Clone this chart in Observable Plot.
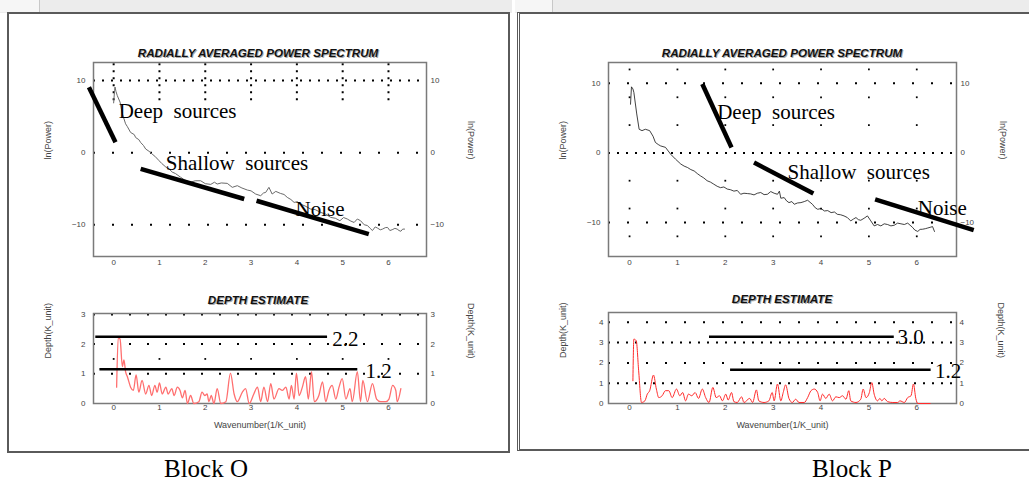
<!DOCTYPE html>
<html><head><meta charset="utf-8">
<script src="https://cdn.jsdelivr.net/npm/d3@7"></script>
<script src="https://cdn.jsdelivr.net/npm/@observablehq/plot@0.6"></script>
<style>
body{margin:0;background:#fff;}
#wrap{position:relative;width:1029px;height:481px;overflow:hidden;font-family:"Liberation Sans",Arial,sans-serif;background:#fff;}
.box{position:absolute;box-sizing:border-box;}
.title{position:absolute;font-weight:bold;font-style:italic;font-size:11.6px;color:#111;text-shadow:1px 1px 0 #aaa;white-space:nowrap;transform:translate(-50%,-50%);}
.block{position:absolute;font-family:"Liberation Serif",serif;font-size:25px;color:#000;transform:translate(-50%,-50%);white-space:nowrap;}
svg text{white-space:pre;}
</style></head><body><div id="wrap"></div>
<script>
// ---------- data ----------
const xTicks = [0, 1, 2, 3, 4, 5, 6];
const powerTicks = [-10, 0, 10];
const depthTicksO = [0, 1, 2, 3];
const depthTicksP = [0, 1, 2, 3, 4];

// Block O radially averaged power spectrum [wavenumber, ln(power)]
const powerO = [[0.00,6.9],[0.02,8.6],[0.03,9.1],[0.05,8.5],[0.08,7.9],[0.14,7.0],[0.19,5.4],[0.26,4.0],[0.30,3.6],[0.37,2.8],[0.45,2.5],[0.48,2.1],[0.55,1.8],[0.59,1.4],[0.65,1.0],[0.70,0.5],[0.77,0.2],[0.84,-0.2],[0.90,-0.5],[0.99,-1.1],[1.05,-1.5],[1.14,-2.0],[1.20,-2.2],[1.28,-2.7],[1.35,-2.9],[1.46,-3.4],[1.55,-3.8],[1.68,-4.1],[1.78,-3.9],[1.90,-3.9],[2.00,-4.3],[2.12,-4.4],[2.20,-4.1],[2.26,-4.35],[2.35,-4.2],[2.48,-4.26],[2.59,-4.81],[2.70,-4.58],[2.80,-4.9],[2.92,-5.19],[3.00,-5.3],[3.10,-5.74],[3.21,-5.97],[3.27,-5.6],[3.32,-5.51],[3.39,-4.81],[3.46,-5.74],[3.54,-5.37],[3.64,-5.65],[3.72,-5.8],[3.79,-6.2],[3.87,-6.5],[3.94,-6.9],[4.01,-6.8],[4.08,-7.13],[4.18,-7.4],[4.30,-7.82],[4.40,-7.9],[4.52,-8.29],[4.62,-8.5],[4.74,-8.98],[4.84,-9.1],[4.94,-9.44],[5.02,-9.0],[5.10,-9.2],[5.18,-9.5],[5.25,-9.68],[5.32,-9.2],[5.39,-9.44],[5.47,-10.0],[5.54,-10.1],[5.60,-10.5],[5.65,-10.8],[5.71,-10.3],[5.76,-10.46],[5.82,-10.7],[5.87,-10.6],[5.93,-10.4],[5.98,-10.37],[6.03,-10.8],[6.08,-10.69],[6.14,-10.5],[6.19,-10.6],[6.23,-10.8],[6.27,-10.9],[6.31,-10.6],[6.35,-10.6]];

// Block P radially averaged power spectrum
const powerP = [[0.02,7.0],[0.04,9.5],[0.07,9.2],[0.09,8.7],[0.15,5.6],[0.20,3.4],[0.26,3.2],[0.33,3.4],[0.42,3.2],[0.49,2.4],[0.54,1.5],[0.60,1.2],[0.65,1.0],[0.75,0.8],[0.86,-0.2],[0.96,-0.9],[1.07,-1.6],[1.14,-1.9],[1.21,-2.1],[1.28,-2.4],[1.35,-2.6],[1.42,-3.0],[1.48,-3.3],[1.55,-3.6],[1.62,-4.0],[1.69,-4.2],[1.76,-4.5],[1.83,-4.8],[1.90,-5.0],[1.97,-4.9],[2.04,-5.2],[2.11,-5.3],[2.18,-5.5],[2.25,-5.4],[2.32,-5.95],[2.39,-5.8],[2.46,-5.85],[2.53,-5.9],[2.60,-6.04],[2.67,-5.8],[2.74,-5.70],[2.81,-6.0],[2.88,-5.95],[2.95,-5.56],[3.02,-5.80],[3.09,-5.95],[3.13,-5.5],[3.16,-6.52],[3.23,-6.43],[3.28,-6.9],[3.33,-7.15],[3.39,-7.0],[3.44,-7.39],[3.51,-7.2],[3.58,-7.15],[3.65,-7.0],[3.72,-6.81],[3.77,-7.1],[3.82,-7.39],[3.88,-7.9],[3.93,-8.11],[4.00,-8.0],[4.07,-8.35],[4.14,-8.3],[4.21,-8.59],[4.28,-8.5],[4.34,-8.83],[4.41,-8.9],[4.48,-9.06],[4.55,-9.3],[4.62,-9.78],[4.68,-9.5],[4.73,-9.30],[4.78,-9.6],[4.83,-9.69],[4.90,-9.4],[4.97,-9.06],[5.04,-9.78],[5.11,-10.5],[5.18,-10.3],[5.25,-10.5],[5.32,-10.2],[5.39,-10.3],[5.46,-10.5],[5.53,-10.4],[5.60,-10.1],[5.67,-10.2],[5.74,-10.3],[5.81,-10.1],[5.86,-10.4],[5.91,-10.7],[5.96,-11.1],[6.02,-11.3],[6.07,-11.0],[6.12,-10.98],[6.18,-10.9],[6.23,-10.8],[6.28,-10.7],[6.33,-10.6],[6.37,-11.3]];

// Depth estimates [wavenumber, depth]
const depthO = [[0.065,0.55],[0.10,2.22],[0.14,2.17],[0.19,1.24],[0.225,1.47],[0.26,1.07],[0.30,0.90],[0.37,0.55],[0.43,0.44],[0.49,0.96],[0.55,0.38],[0.62,0.78],[0.70,0.32],[0.77,0.61],[0.83,0.27],[0.90,0.61],[0.95,0.38],[1.00,0.69],[1.06,0.32],[1.14,0.55],[1.19,0.32],[1.27,0.50],[1.32,0.27],[1.39,0.55],[1.45,0.44],[1.50,0.19],[1.56,0.44],[1.61,0.0],[1.68,0.27],[1.75,0.0],[1.86,0.06],[1.93,0.38],[1.99,0.27],[2.04,0.32],[2.08,0.06],[2.13,0.27],[2.19,0.0],[2.26,0.50],[2.34,0.0],[2.45,0.06],[2.55,1.02],[2.63,0.32],[2.70,0.06],[2.81,0.38],[2.88,0.50],[2.96,0.0],[3.06,0.32],[3.14,0.55],[3.21,0.06],[3.28,0.55],[3.36,0.06],[3.43,0.67],[3.50,0.15],[3.61,0.50],[3.68,0.44],[3.76,0.55],[3.83,0.15],[3.88,0.61],[3.94,0.15],[3.99,1.02],[4.05,0.27],[4.12,0.55],[4.19,0.90],[4.25,0.15],[4.32,1.07],[4.38,0.06],[4.48,0.27],[4.56,0.73],[4.63,0.06],[4.70,0.44],[4.77,0.61],[4.85,0.15],[4.92,0.55],[4.99,0.84],[5.07,0.15],[5.16,0.50],[5.21,0.06],[5.32,1.07],[5.39,0.06],[5.44,0.78],[5.54,0.06],[5.65,0.67],[5.74,0.15],[5.83,0.06],[5.94,0.06],[6.01,0.15],[6.09,0.61],[6.16,0.44],[6.19,0.06],[6.27,0.50]];

const depthP = [[0.07,1.12],[0.09,3.17],[0.14,3.09],[0.19,1.61],[0.25,0.05],[0.32,0.13],[0.37,0.46],[0.42,0.63],[0.50,1.40],[0.56,0.71],[0.61,0.29],[0.68,0.38],[0.75,0.63],[0.82,0.63],[0.89,0.29],[0.98,0.71],[1.05,0.38],[1.11,0.54],[1.17,0.13],[1.23,0.46],[1.30,0.38],[1.37,0.54],[1.44,0.25],[1.52,0.71],[1.59,0.29],[1.66,0.05],[1.74,0.79],[1.81,0.29],[1.88,0.38],[1.94,0.13],[2.01,0.46],[2.06,0.17],[2.13,0.54],[2.18,0.09],[2.25,0.05],[2.34,0.33],[2.39,0.05],[2.51,0.25],[2.57,0.05],[2.65,0.67],[2.70,0.13],[2.81,0.05],[2.91,0.13],[2.98,0.54],[3.02,0.13],[3.09,0.96],[3.16,0.13],[3.21,0.54],[3.26,0.92],[3.33,0.25],[3.40,0.05],[3.47,0.21],[3.54,0.05],[3.65,0.05],[3.72,0.29],[3.79,0.63],[3.86,0.71],[3.93,0.54],[3.98,0.13],[4.03,0.46],[4.10,0.25],[4.17,0.46],[4.24,0.13],[4.31,0.33],[4.38,0.29],[4.45,0.38],[4.52,0.21],[4.58,0.63],[4.62,0.13],[4.73,0.05],[4.83,0.21],[4.88,0.71],[4.94,0.29],[5.01,0.54],[5.06,1.03],[5.11,0.46],[5.18,0.13],[5.23,0.25],[5.27,0.13],[5.32,0.25],[5.39,0.09],[5.50,0.05],[5.60,0.05],[5.65,0.13],[5.74,0.05],[5.81,0.29],[5.88,0.38],[5.93,0.96],[5.98,0.25],[6.02,0.0],[6.28,0.0]];

// Hand-drawn annotations (data coordinates)
const powerLinesO = [{x1:-0.54,y1:9.07,x2:0.04,y2:1.43},{x1:0.59,y1:-2.26,x2:2.85,y2:-6.43},{x1:3.12,y1:-6.67,x2:5.57,y2:-11.3}];
const powerTextO = [{x:0.11,y:5.8,text:"Deep  sources"},{x:1.14,y:-1.5,text:"Shallow  sources"},{x:3.97,y:-7.8,text:"Noise"}];
const powerLinesP = [{x1:1.52,y1:9.9,x2:2.13,y2:0.77},{x1:2.60,y1:-1.39,x2:3.84,y2:-5.85},{x1:5.13,y1:-6.67,x2:7.19,y2:-11.1}];
const powerTextP = [{x:1.83,y:5.8,text:"Deep  sources"},{x:3.30,y:-2.83,text:"Shallow  sources"},{x:6.02,y:-7.9,text:"Noise"}];
const depthLinesO = [{y:2.25,x1:-0.39,x2:4.67},{y:1.15,x1:-0.30,x2:5.33}];
const depthTextO = [{x:4.77,y:2.16,text:"2.2"},{x:5.50,y:1.07,text:"1.2"}];
const depthLinesP = [{y:3.29,x1:1.67,x2:5.53},{y:1.66,x1:2.11,x2:6.30}];
const depthTextP = [{x:5.60,y:3.25,text:"3.0"},{x:6.38,y:1.61,text:"1.2"}];

// ---------- layout helpers ----------
const wrap = document.getElementById("wrap");
function box(css){const d=document.createElement("div");d.className="box";Object.assign(d.style,css);wrap.appendChild(d);return d;}
function label(cls,text,x,y){const d=document.createElement("div");d.className=cls;d.textContent=text;d.style.left=x+"px";d.style.top=y+"px";wrap.appendChild(d);}

// window chrome
box({left:"0px",top:"0px",width:"512px",height:"13px",background:"#ececec"});
box({left:"0px",top:"0px",width:"40px",height:"12px",background:"#f6f6f6",borderRight:"1px solid #c8c8c8"});
box({left:"515px",top:"0px",width:"514px",height:"13px",background:"#ececec"});
box({left:"515px",top:"0px",width:"38px",height:"12px",background:"#f6f6f6",borderRight:"1px solid #c8c8c8"});
box({left:"7px",top:"12px",width:"503px",height:"441px",border:"2px solid #5a5a5a"});
box({left:"517px",top:"12px",width:"530px",height:"439px",borderTop:"2px solid #5a5a5a",borderBottom:"2px solid #5a5a5a",borderLeft:"3px double #5a5a5a"});

const serif = "Liberation Serif, Times New Roman, serif";
const sans = "Liberation Sans, Arial, sans-serif";

function makePlot(o){
  const p = Plot.plot({
    width:o.w, height:o.h, marginLeft:o.ml, marginRight:o.mr, marginTop:o.mt, marginBottom:o.mb,
    x:{domain:[-0.44,6.83]},
    y:{domain:o.yDomain},
    style:{background:"transparent", fontFamily:sans, fontSize:"8px", color:"#444", overflow:"visible"},
    marks:[
      ...o.grid,
      Plot.frame({stroke:"#7a7a7a", strokeWidth:1.5}),
      Plot.axisX(xTicks,{anchor:"bottom", tickSize:0, tickPadding:o.xPad, label:null, fontSize:8, fill:"#444"}),
      Plot.axisY(o.yTicks,{anchor:"left", tickSize:0, tickPadding:o.yPadL, label:null, fontSize:8, fill:"#444"}),
      Plot.axisY(o.yTicks,{anchor:"right", tickSize:0, tickPadding:o.yPadR, label:null, fontSize:8, fill:"#444"}),
      Plot.text([o.ylabel],{frameAnchor:"left", dx:o.dxL, rotate:-90, fontSize:9, fill:"#444", fontFamily:sans}),
      Plot.text([o.ylabel],{frameAnchor:"right", dx:o.dxR, rotate:90, fontSize:9, fill:"#444", fontFamily:sans}),
      ...(o.xlabel ? [Plot.text([o.xlabel],{frameAnchor:"bottom", dy:24, fontSize:9, fill:"#444", fontFamily:sans})] : []),
      ...o.marks
    ]
  });
  p.style.position="absolute"; p.style.left=o.left+"px"; p.style.top=o.top+"px"; p.style.maxWidth="none";
  wrap.appendChild(p);
}

const dots = (rows, xs) => Plot.dot(rows.flatMap(y => xs.map(x => ({x, y}))), {x:"x", y:"y", r:1, fill:"#000", symbol:"square"});
const dotted = (ys, dash) => Plot.ruleY(ys, {stroke:"#000", strokeWidth:2, strokeDasharray:dash});

// Block O power spectrum
makePlot({left:8, top:40, w:500, h:240, ml:85, mr:82, mt:22, mb:24, yDomain:[-14.4,12.5], yTicks:powerTicks,
  xPad:3, yPadL:8, yPadR:4, ylabel:"ln(Power)", dxL:-45, dxR:44,
  grid:[dotted([10],"2,7"), dotted([0,-10],"2,17"),
        Plot.ruleX(xTicks,{y1:()=>7.2, y2:()=>12.4, stroke:"#000", strokeWidth:2, strokeDasharray:"2,5"})],
  marks:[
    Plot.line(powerO,{x:d=>d[0], y:d=>d[1], stroke:"#6a6a6a", strokeWidth:1}),
    Plot.link(powerLinesO,{x1:"x1", y1:"y1", x2:"x2", y2:"y2", stroke:"#000", strokeWidth:4.5}),
    Plot.text(powerTextO,{x:"x", y:"y", text:"text", textAnchor:"start", fontFamily:serif, fontSize:21, fill:"#000"})
  ]});

// Block O depth estimate
makePlot({left:8, top:290, w:500, h:150, ml:85, mr:82, mt:23, mb:37, yDomain:[0,3.03], yTicks:depthTicksO,
  xPad:1, yPadL:8, yPadR:4, ylabel:"Depth(K_unit)", dxL:-45, dxR:44, xlabel:"Wavenumber(1/K_unit)",
  grid:[dotted([3,2,1],"2,16"), dots([1.5], xTicks)],
  marks:[
    Plot.line(depthO,{x:d=>d[0], y:d=>d[1], stroke:"#ff6f6f", strokeWidth:1.3, curve:"monotone-x"}),
    Plot.ruleY(depthLinesO,{y:"y", x1:"x1", x2:"x2", stroke:"#000", strokeWidth:2.5}),
    Plot.text(depthTextO,{x:"x", y:"y", text:"text", textAnchor:"start", fontFamily:serif, fontSize:21, fill:"#000"})
  ]});

// Block P power spectrum
makePlot({left:520, top:40, w:500, h:240, ml:88, mr:64, mt:22, mb:24, yDomain:[-14.9,13.0], yTicks:powerTicks,
  xPad:3, yPadL:8, yPadR:4, ylabel:"ln(Power)", dxL:-45, dxR:46,
  grid:[dotted([0],"2,7"), dotted([10,-10],"2,17"), dots([12,8,4,-4,-8,-12], xTicks)],
  marks:[
    Plot.line(powerP,{x:d=>d[0], y:d=>d[1], stroke:"#111", strokeWidth:0.8}),
    Plot.link(powerLinesP,{x1:"x1", y1:"y1", x2:"x2", y2:"y2", stroke:"#000", strokeWidth:4.5}),
    Plot.text(powerTextP,{x:"x", y:"y", text:"text", textAnchor:"start", fontFamily:serif, fontSize:21, fill:"#000"})
  ]});

// Block P depth estimate
makePlot({left:520, top:290, w:500, h:150, ml:88, mr:64, mt:22, mb:37, yDomain:[0,4.48], yTicks:depthTicksP,
  xPad:1, yPadL:5, yPadR:3, ylabel:"Depth(K_unit)", dxL:-45, dxR:44, xlabel:"Wavenumber(1/K_unit)",
  grid:[dotted([3,1],"2,7"), dotted([4,2],"2,17")],
  marks:[
    Plot.line(depthP,{x:d=>d[0], y:d=>d[1], stroke:"#ff2a2a", strokeWidth:1, curve:"monotone-x"}),
    Plot.ruleY(depthLinesP,{y:"y", x1:"x1", x2:"x2", stroke:"#000", strokeWidth:2.5}),
    Plot.text(depthTextP,{x:"x", y:"y", text:"text", textAnchor:"start", fontFamily:serif, fontSize:21, fill:"#000"})
  ]});

label("title","RADIALLY AVERAGED POWER SPECTRUM",258,52);
label("title","DEPTH ESTIMATE",258,299);
label("title","RADIALLY AVERAGED POWER SPECTRUM",782,52);
label("title","DEPTH ESTIMATE",782,298);
label("block","Block O",206,469);
label("block","Block P",852,469);
</script></body></html>
